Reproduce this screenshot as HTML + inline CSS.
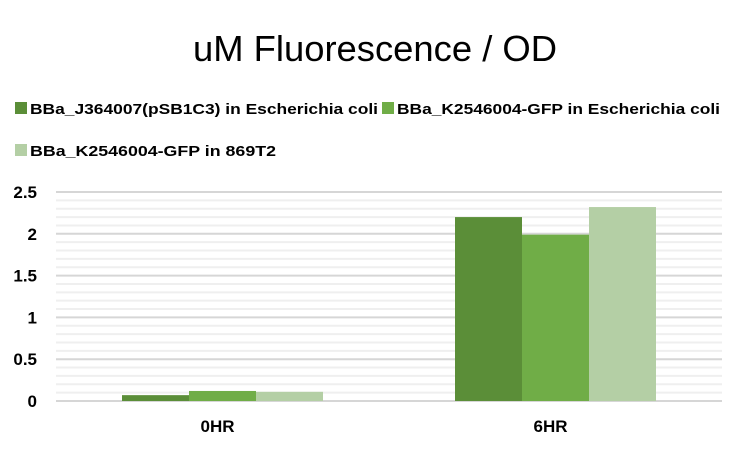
<!DOCTYPE html>
<html><head><meta charset="utf-8"><style>
body{margin:0;background:#fff;font-family:"Liberation Sans",sans-serif}
</style></head><body>
<svg id="c" width="750" height="450" xmlns="http://www.w3.org/2000/svg">
<text x="375" y="61" text-anchor="middle" font-size="36" textLength="364" lengthAdjust="spacingAndGlyphs" fill="#000">uM Fluorescence / OD</text>
<g font-size="15" font-weight="bold" fill="#000">
<rect x="15" y="102" width="12" height="12" fill="#5B8E38"/>
<text x="30" y="114" textLength="348" lengthAdjust="spacingAndGlyphs">BBa_J364007(pSB1C3) in Escherichia coli</text>
<rect x="382" y="102" width="12" height="12" fill="#70AD47"/>
<text x="397" y="114" textLength="323" lengthAdjust="spacingAndGlyphs">BBa_K2546004-GFP in Escherichia coli</text>
<rect x="15" y="144" width="12" height="12" fill="#B4CFA5"/>
<text x="30" y="156" textLength="246" lengthAdjust="spacingAndGlyphs">BBa_K2546004-GFP in  869T2</text>
</g>
<g id="grid"></g><g id="bars"></g><g id="axes"></g>
</svg>
<script>
const categories=["0HR","6HR"];
const series1=[0.07,2.20];
const series2=[0.12,1.99];
const series3=[0.11,2.32];
const yTicks=[0,0.5,1,1.5,2,2.5];
const colors=["#5B8E38","#70AD47","#B4CFA5"];
const NS="http://www.w3.org/2000/svg";
const x0=56,x1=722,y0=401,yTop=192,yMax=2.5;
const y=v=>y0-(v/yMax)*(y0-yTop);
const bandW=(x1-x0)/categories.length;
const barW=67;
function mk(tag,attrs,parent){const e=document.createElementNS(NS,tag);for(const k in attrs)e.setAttribute(k,attrs[k]);parent.appendChild(e);return e;}
const grid=document.getElementById('grid'),bars=document.getElementById('bars'),axes=document.getElementById('axes');
for(let i=1;i<=25;i++){const v=i*0.1;if(i%5===0)continue;
const l=mk('line',{x1:x0,x2:x1,y1:y(v),y2:y(v),stroke:'#EFEFEF','stroke-width':2},grid);

}
yTicks.forEach(v=>{
const l=mk('line',{x1:x0,x2:x1,y1:y(v),y2:y(v),stroke:'#D6D6D6','stroke-width':2},grid);


const t=mk('text',{x:37,y:y(v)+6,'text-anchor':'end','font-size':17,'font-weight':'bold',fill:'#000'},axes);
t.textContent=String(v);

});
const all=[series1,series2,series3];
categories.forEach((c,ci)=>{
const cx=x0+bandW*(ci+0.5);
all.forEach((s,si)=>{
const bx=cx-1.5*barW+si*barW;
const r=mk('rect',{x:bx,y:y(s[ci]),width:barW,height:y0-y(s[ci]),fill:colors[si]},bars);

});
const t=mk('text',{x:cx-5,y:432,'text-anchor':'middle','font-size':17,'font-weight':'bold',fill:'#000'},axes);
t.textContent=c;

});
</script>
</body></html>
